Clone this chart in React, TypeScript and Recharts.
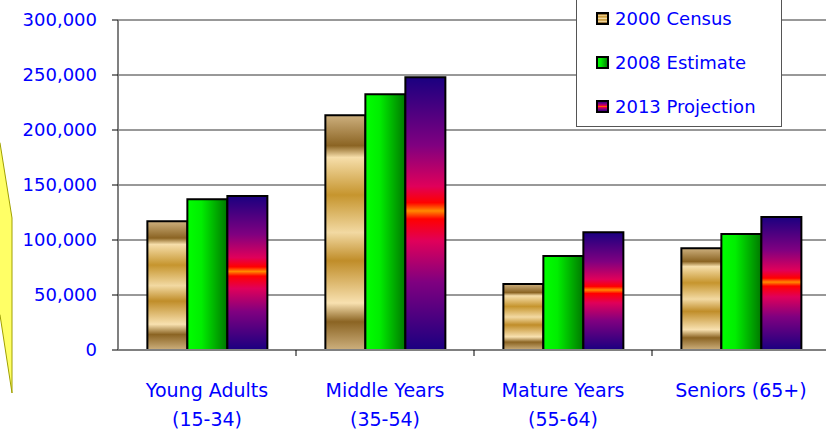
import { BarChart, Bar, XAxis, YAxis, CartesianGrid, Legend } from 'recharts';

const categories = ['Young Adults|(15-34)', 'Middle Years|(35-54)', 'Mature Years|(55-64)', 'Seniors (65+)|'];
const census2000 = [117000, 213500, 60000, 92500];
const estimate2008 = [137000, 232500, 85500, 105500];
const projection2013 = [140000, 248000, 107000, 121000];
const yTicks = [0, 50000, 100000, 150000, 200000, 250000, 300000];
const seriesNames = ['2000 Census', '2008 Estimate', '2013 Projection'];

const FONT = '"Comic Sans MS", "DejaVu Sans", sans-serif';
const BLUE = '#0000ff';

const data = categories.map((c, i) => ({
  name: c,
  census: census2000[i],
  estimate: estimate2008[i],
  projection: projection2013[i],
}));

function CategoryTick(props: any) {
  const { x, y, payload, index } = props;
  const half = payload?.offset ?? 89;
  const [l1, l2] = String(payload.value).split('|');
  return (
    <g>
      {index < categories.length - 1 && (
        <line x1={x + half} x2={x + half} y1={y - 8} y2={y - 2} stroke="#000" strokeWidth={1} />
      )}
      <text x={x} y={y + 39} textAnchor="middle" fill={BLUE} fontSize={19} fontFamily={FONT}>
        {l1}
      </text>
      {l2 && (
        <text x={x} y={y + 68} textAnchor="middle" fill={BLUE} fontSize={19} fontFamily={FONT}>
          {l2}
        </text>
      )}
    </g>
  );
}

const swatches = ['url(#goldV)', 'url(#greenH)', 'url(#fireV)'];

function LegendBox() {
  return (
    <div
      style={{
        width: 206,
        height: 137,
        background: '#fff',
        border: '1px solid #555',
        boxSizing: 'border-box',
        fontFamily: FONT,
        fontSize: 18,
        color: BLUE,
        position: 'relative',
      }}
    >
      {seriesNames.map((n, i) => (
        <div key={n} style={{ position: 'absolute', left: 19, top: 15 + i * 44, height: 24, display: 'flex', alignItems: 'center' }}>
          <svg width={13} height={13} style={{ marginRight: 6 }}>
            <rect x={1} y={1} width={11} height={11} fill={swatches[i]} stroke="#000" strokeWidth={2} />
          </svg>
          <span>{n}</span>
        </div>
      ))}
    </div>
  );
}

export default function App() {
  return (
    <div style={{ position: 'absolute', left: 0, top: 0, width: 826, height: 436, overflow: 'hidden', background: '#fff' }}>
      <BarChart
        width={840}
        height={436}
        data={data}
        margin={{ top: 20, right: 10, left: 0, bottom: 6 }}
        barCategoryGap="16.5%"
        barGap={0}
      >
        <defs>
          <linearGradient id="goldV" x1="0" y1="0" x2="0" y2="1">
            <stop offset="0%" stopColor="#cdb07e" />
            <stop offset="13%" stopColor="#8b6423" />
            <stop offset="18%" stopColor="#f6deaa" />
            <stop offset="34%" stopColor="#c6952e" />
            <stop offset="50%" stopColor="#f2d9a2" />
            <stop offset="62%" stopColor="#c08d29" />
            <stop offset="80%" stopColor="#f8e1b0" />
            <stop offset="88%" stopColor="#8b6423" />
            <stop offset="100%" stopColor="#cdb07e" />
          </linearGradient>
          <linearGradient id="greenH" x1="0" y1="0" x2="1" y2="0">
            <stop offset="0%" stopColor="#00ff00" />
            <stop offset="35%" stopColor="#00ee00" />
            <stop offset="100%" stopColor="#007800" />
          </linearGradient>
          <linearGradient id="fireV" x1="0" y1="0" x2="0" y2="1">
            <stop offset="0%" stopColor="#1a0080" />
            <stop offset="25%" stopColor="#800080" />
            <stop offset="40%" stopColor="#e0005a" />
            <stop offset="46%" stopColor="#ff0000" />
            <stop offset="49%" stopColor="#ff8a00" />
            <stop offset="52%" stopColor="#ff0000" />
            <stop offset="60%" stopColor="#e0005a" />
            <stop offset="75%" stopColor="#800080" />
            <stop offset="100%" stopColor="#1a0080" />
          </linearGradient>
        </defs>
        <CartesianGrid vertical={false} stroke="#333" strokeWidth={1} />
        <XAxis
          dataKey="name"
          height={80}
          axisLine={{ stroke: '#808080', strokeWidth: 2 }}
          tickLine={false}
          tick={<CategoryTick />}
          interval={0}
        />
        <YAxis
          width={118}
          domain={[0, 300000]}
          ticks={yTicks}
          interval={0}
          tickFormatter={(v: number) => v.toLocaleString('en-US')}
          axisLine={{ stroke: '#808080', strokeWidth: 2 }}
          tickLine={{ stroke: '#000' }}
          tickSize={6}
          tickMargin={15}
          tick={{ fill: BLUE, fontSize: 18, fontFamily: FONT }}
        />
        <Legend
          layout="vertical"
          align="center"
          verticalAlign="middle"
          content={() => <LegendBox />}
          wrapperStyle={{ left: 576, top: -10, width: 206, height: 137 }}
        />
        <Bar dataKey="census" name={seriesNames[0]} fill="url(#goldV)" stroke="#000" strokeWidth={2} isAnimationActive={false} />
        <Bar dataKey="estimate" name={seriesNames[1]} fill="url(#greenH)" stroke="#000" strokeWidth={2} isAnimationActive={false} />
        <Bar dataKey="projection" name={seriesNames[2]} fill="url(#fireV)" stroke="#000" strokeWidth={2} isAnimationActive={false} />
      </BarChart>
      <svg width={20} height={436} style={{ position: 'absolute', left: 0, top: 0 }}>
        <polygon points="-2,140 0,143 12,218 12,393 0,315 -2,312" fill="#ffff66" stroke="#a0a000" strokeWidth={1} />
      </svg>
    </div>
  );
}
